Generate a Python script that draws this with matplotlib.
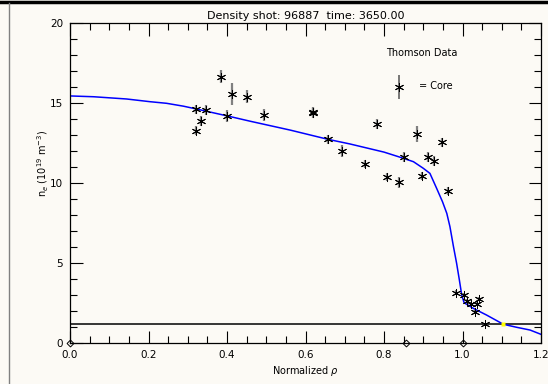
import numpy as np
import matplotlib
matplotlib.use('Agg')
import matplotlib.pyplot as plt
from matplotlib.lines import Line2D
from matplotlib.ticker import MultipleLocator

# Datos Thomson (rho normalizado, densidad, error)
rho_data = [0.321, 0.346, 0.335, 0.321, 0.384, 0.414, 0.401, 0.450, 0.494,
            0.620, 0.620, 0.657, 0.692, 0.781, 0.883, 0.947, 0.751, 0.852,
            0.913, 0.928, 0.808, 0.839, 0.898, 0.964,
            0.983, 1.004, 1.012, 1.021, 1.038, 1.043, 1.032, 1.057]
ne_data = [14.63, 14.58, 13.91, 13.29, 16.66, 15.58, 14.21, 15.41, 14.25,
           14.48, 14.38, 12.75, 12.02, 13.71, 13.06, 12.56, 11.21, 11.66,
           11.63, 11.39, 10.38, 10.06, 10.46, 9.52,
           3.16, 3.02, 2.64, 2.46, 2.44, 2.77, 1.98, 1.19]
ne_err = [0.28, 0.30, 0.30, 0.30, 0.40, 0.68, 0.37, 0.40, 0.38,
          0.30, 0.30, 0.30, 0.35, 0.30, 0.50, 0.28, 0.26, 0.30,
          0.30, 0.30, 0.26, 0.34, 0.26, 0.28,
          0.15, 0.15, 0.12, 0.12, 0.12, 0.15, 0.12, 0.10]

# Ajuste (curva azul)
rho_fit = [0.0, 0.06, 0.144, 0.204, 0.246, 0.289, 0.321, 0.401, 0.459, 0.562,
           0.657, 0.713, 0.80, 0.841, 0.875, 0.90, 0.917, 0.934, 0.949, 0.96,
           0.968, 0.977, 0.985, 0.992, 0.998, 1.004, 1.027, 1.061, 1.104,
           1.138, 1.172, 1.20]
ne_fit = [15.46, 15.41, 15.27, 15.10, 15.00, 14.82, 14.65, 14.21, 13.88, 13.32,
          12.75, 12.46, 11.95, 11.63, 11.35, 10.94, 10.62, 9.69, 8.85, 8.12,
          7.29, 6.04, 5.00, 3.96, 3.02, 2.54, 2.19, 1.77, 1.19,
          1.00, 0.83, 0.56]

ne_limit = 1.19          # linea horizontal
rho_cross = 1.104        # cruce (punto amarillo)
rho_diamonds = [0.0, 0.857, 1.0]

x_ticks = [0.0, 0.2, 0.4, 0.6, 0.8, 1.0, 1.2]
y_ticks = [0, 5, 10, 15, 20]

bg = '#fcfaf5'
fig = plt.figure(figsize=(5.48, 3.84), dpi=100, facecolor=bg)
ax = fig.add_axes([70/548, 1-343.3/384, 471/548, 320/384], facecolor=bg)

ax.axhline(ne_limit, color='black', lw=1.1)
ax.plot(rho_fit, ne_fit, color='#0000ff', lw=1.1)
ax.plot([rho_cross], [ne_limit], marker='s', ms=2.2, color='yellow', mec='none')

ax.errorbar(rho_data, ne_data, yerr=ne_err, fmt='none', ecolor='#808080',
            elinewidth=1.6, capsize=0)
ax.plot(rho_data, ne_data, ls='none', marker=(6, 2, 0), ms=6.5, mew=0.7,
        color='black')
ax.plot(rho_diamonds, [0, 0, 0], ls='none', marker='D', ms=3.5, mfc='none',
        mec='black', mew=0.7, clip_on=False)

# Leyenda
ax.text(0.897, 18.14, 'Thomson Data', fontsize=7, ha='center', va='center')
ax.errorbar([0.839], [16.04], yerr=[0.75], fmt='none', ecolor='#606060',
            elinewidth=1.2)
ax.plot([0.839], [16.04], marker=(6, 2, 0), ms=6.5, mew=0.7, color='black')
ax.text(0.89, 16.1, '= Core', fontsize=7, ha='left', va='center')

ax.set_xlim(0, 1.2)
ax.set_ylim(0, 20)
ax.set_xticks(x_ticks)
ax.set_xticklabels(['%.1f' % v for v in x_ticks])
ax.set_yticks(y_ticks)
ax.set_yticklabels([str(v) for v in y_ticks])
ax.xaxis.set_minor_locator(MultipleLocator(0.05))
ax.yaxis.set_minor_locator(MultipleLocator(1))
ax.tick_params(which='both', direction='in', top=True, right=True,
               labelsize=7.5, width=0.8, pad=5)
ax.tick_params(which='major', length=9)
ax.tick_params(which='minor', length=5)
for s in ax.spines.values():
    s.set_linewidth(0.9)

ax.set_title('Density shot: 96887  time: 3650.00', fontsize=8, pad=3)
ax.set_xlabel(r'Normalized $\rho$', fontsize=7, labelpad=3)
fig.text(43/548, 1-163/384, r'n$_e$ (10$^{19}$ m$^{-3}$)', rotation=90,
         fontsize=7, ha='center', va='center')

# Marco
fig.add_artist(Line2D([0, 1], [1-1.5/384, 1-1.5/384], color='black', lw=2.5,
                      transform=fig.transFigure))
fig.add_artist(Line2D([8.5/548, 8.5/548], [0, 1-3/384], color='#808080', lw=1,
                      transform=fig.transFigure))

fig.savefig('out.png', dpi=100, facecolor=bg)
